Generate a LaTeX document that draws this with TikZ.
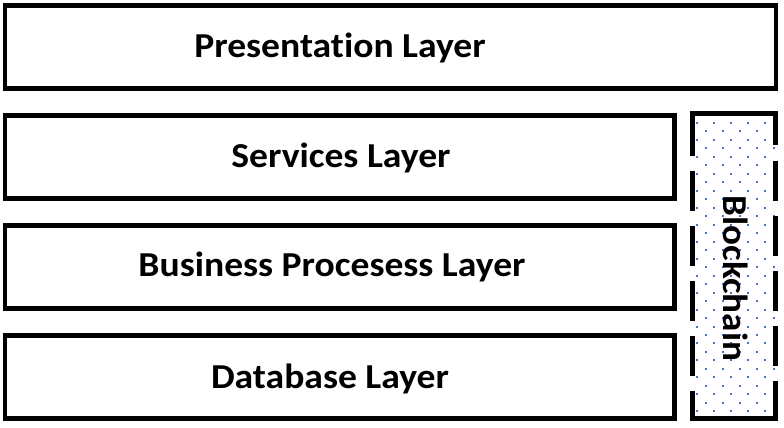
\documentclass[tikz,border=0pt]{standalone}
\usepackage{graphicx}
\usepackage{fontspec}
\setmainfont{Carlito}[Ligatures=NoCommon]
\definecolor{dotblue}{RGB}{68,114,196}
\newcommand{\widetxt}[2][1.075]{\scalebox{#1}[1]{#2}}
\begin{document}
\begin{tikzpicture}[x=1pt,y=-1pt,
  layer/.style={draw=black,line width=4.8pt,rectangle,inner sep=0pt,outer sep=0pt,minimum height=82.6pt},
  lbl/.style={font=\fontsize{35}{40}\selectfont\bfseries,inner sep=0pt,anchor=base,text=black},
  bord/.style={draw=black,line width=4.8pt,line cap=butt,miter limit=10}]
\useasboundingbox (0,0) rectangle (784,428);
\fill[white] (0,0) rectangle (784,428);
% layer boxes
\node[layer,minimum width=771pt] (pres) at (390.5,47.05) {};
\node[layer,minimum width=669.2pt] (serv) at (339.6,157.15) {};
\node[layer,minimum width=669.2pt] (bus) at (339.6,267.15) {};
\node[layer,minimum width=669.2pt] (db) at (339.6,377) {};
% labels
\node[lbl] (presl) at (340,57.7) {\widetxt{Presentation Layer}};
\node[lbl] (servl) at (341,167.5) {\widetxt{Services Layer}};
\node[lbl] (busl) at (332,276) {\widetxt{Business Procesess Layer}};
\node[lbl] (dbl) at (330,388) {\widetxt{Database Layer}};
% blockchain dots
\foreach \k in {0,...,34}{
  \pgfmathsetmacro{\yy}{123+8.48*\k}
  \pgfmathsetmacro{\xo}{mod(\k,2)==0 ? 697.3 : 706}
  \foreach \j in {0,...,4}{
    \fill[dotblue] ({\xo+17*\j-1},{\yy-1}) rectangle ++(2,2);
  }
}
% blockchain border
\draw[bord] (692.5,156) -- (692.5,113.8) -- (775.5,113.8) -- (775.5,145);
\draw[bord] (775.5,381) -- (775.5,418.8) -- (692.5,418.8) -- (692.5,391);
\draw[bord,dash pattern=on 40pt off 15pt] (775.5,161) -- (775.5,366);
\draw[bord,dash pattern=on 40pt off 15pt] (692.5,171) -- (692.5,376);
\node[lbl,rotate=-90] (bcl) at (723,278.5) {\widetxt[1.06]{Blockchain}};
\end{tikzpicture}
\end{document}
